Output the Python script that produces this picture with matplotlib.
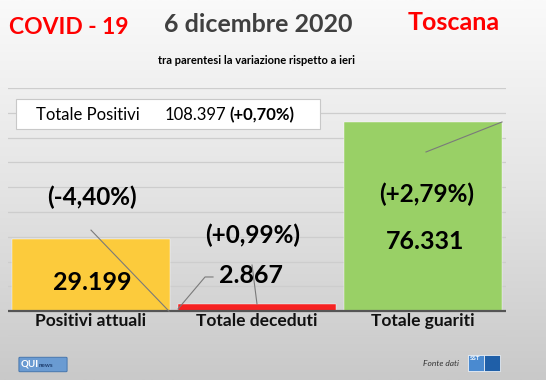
import numpy as np
import matplotlib.pyplot as plt
from matplotlib.patches import Rectangle, FancyBboxPatch

plt.rcParams['font.family'] = ['Lato', 'DejaVu Sans']

categorie = ['Positivi attuali', 'Totale deceduti', 'Totale guariti']
valori = [29199, 2867, 76331]
etichette_valori = ['29.199', '2.867', '76.331']
variazioni = ['(-4,40%)', '(+0,99%)', '(+2,79%)']
colori = ['#FCCB3C', '#F52222', '#99D066']
totale_positivi = '108.397'
var_totale = '(+0,70%)'

W, H = 546, 380
fig = plt.figure(figsize=(W / 100, H / 100), dpi=100)

# sfondo sfumato
bg = fig.add_axes([0, 0, 1, 1], zorder=-10)
grad = np.linspace(0, 1, 256).reshape(-1, 1)
bg.imshow(grad, aspect='auto', cmap=plt.matplotlib.colors.LinearSegmentedColormap.from_list(
    'g', ['#FAFAFA', '#E4E4E4', '#C9C9C9']), extent=[0, 1, 0, 1])
bg.set_axis_off()


def fx(px):
    return px / W


def fy(py):
    return 1 - py / H


ax = fig.add_axes([fx(8), fy(336), fx(506) - fx(8), fy(88) - fy(336)])
ax.patch.set_alpha(0)
x = np.arange(len(categorie))
ax.bar(x, valori, width=0.95, color=colori, zorder=3, edgecolor='white', linewidth=0.3)
ax.set_xlim(-0.5, 2.5)
ax.set_ylim(-10000, 90000)
for yv in range(-10000, 90001, 10000):
    if yv != 0:
        ax.axhline(yv, color='#CDCDCD', lw=0.9, zorder=1)
ax.axhline(0, color='#555555', lw=1.6, zorder=4)
for s in ax.spines.values():
    s.set_visible(False)
ax.set_xticks([])
ax.set_yticks([])

# etichette valori e variazioni
pos_val = [(0.006, 11400), (0.964, 14200), (2.01, 28300)]
pos_var = [(0.006, 46000), (0.976, 30700), (2.024, 47300)]
for i in range(3):
    ax.text(pos_val[i][0], pos_val[i][1], etichette_valori[i], ha='center', va='center',
            fontsize=18, fontweight='bold', color='black', zorder=5)
    ax.text(pos_var[i][0], pos_var[i][1], variazioni[i], ha='center', va='center',
            fontsize=17.5, fontweight='bold', color='black', zorder=5)
    ax.text(x[i], -4000, categorie[i], ha='center', va='center',
            fontsize=12.5, fontweight='bold', color='#111111', zorder=5)

# linee guida
lc = '#7A7A7A'
ax.plot([0.0, 0.47], [32700, 0], color=lc, lw=0.8, zorder=5)
ax.plot([0.524, 0.687, 0.735], [900, 13800, 13800], color=lc, lw=0.8, zorder=5)
ax.plot([1.0, 0.97], [2900, 18600], color=lc, lw=0.8, zorder=5)
ax.plot([2.018, 2.476], [64200, 76300], color=lc, lw=0.8, zorder=5)

# titoli
fig.text(fx(69), fy(27), 'COVID - 19', color='#FF0000', fontsize=16.5, fontweight='bold',
         va='center', ha='center')
fig.text(fx(258), fy(25), '6 dicembre 2020', color='#404040', fontsize=18, fontweight='bold',
         va='center', ha='center')
fig.text(fx(454), fy(23), 'Toscana', color='#FF0000', fontsize=18, fontweight='bold',
         va='center', ha='center')
fig.text(fx(257), fy(61), 'tra parentesi la variazione rispetto a ieri', fontsize=8,
         fontweight='bold', ha='center', va='center')

# riquadro totale positivi
fig.patches.append(Rectangle((fx(16), fy(129)), fx(320) - fx(16), fy(99) - fy(129),
                             transform=fig.transFigure, facecolor='white',
                             edgecolor='#C8C8C8', lw=0.8, zorder=2))
fig.text(fx(36), fy(115), 'Totale Positivi', fontsize=12, va='center', zorder=3)
fig.text(fx(165), fy(115), totale_positivi, fontsize=12, va='center', zorder=3)
fig.text(fx(229), fy(115), var_totale, fontsize=12, fontweight='bold', va='center', zorder=3)

# loghi in basso
fig.patches.append(FancyBboxPatch((fx(20), fy(371)), fx(46), fy(358) - fy(371),
                                  boxstyle='round,pad=0.002', transform=fig.transFigure,
                                  facecolor='#6A9BD2', edgecolor='#3D6FA8', lw=0.6))
fig.text(fx(21), fy(364.5), 'QUI', color='white', fontsize=7, fontweight='bold', va='center')
fig.text(fx(39), fy(365.5), 'news', color='#1F3F6F', fontsize=4.5, fontweight='bold', va='center')
fig.text(fx(423), fy(363), 'Fonte dati', fontsize=6, style='italic', color='#333333', va='center')
fig.patches.append(Rectangle((fx(468), fy(371)), fx(16), fy(355) - fy(371),
                             transform=fig.transFigure, facecolor='#4A8AD0',
                             edgecolor='white', lw=0.5))
fig.patches.append(Rectangle((fx(484), fy(371)), fx(16), fy(355) - fy(371),
                             transform=fig.transFigure, facecolor='#1F5FA8',
                             edgecolor='white', lw=0.5))
fig.text(fx(470), fy(359), 'SST', color='white', fontsize=4.5, fontweight='bold', va='center')

fig.savefig('out.png', dpi=100)
